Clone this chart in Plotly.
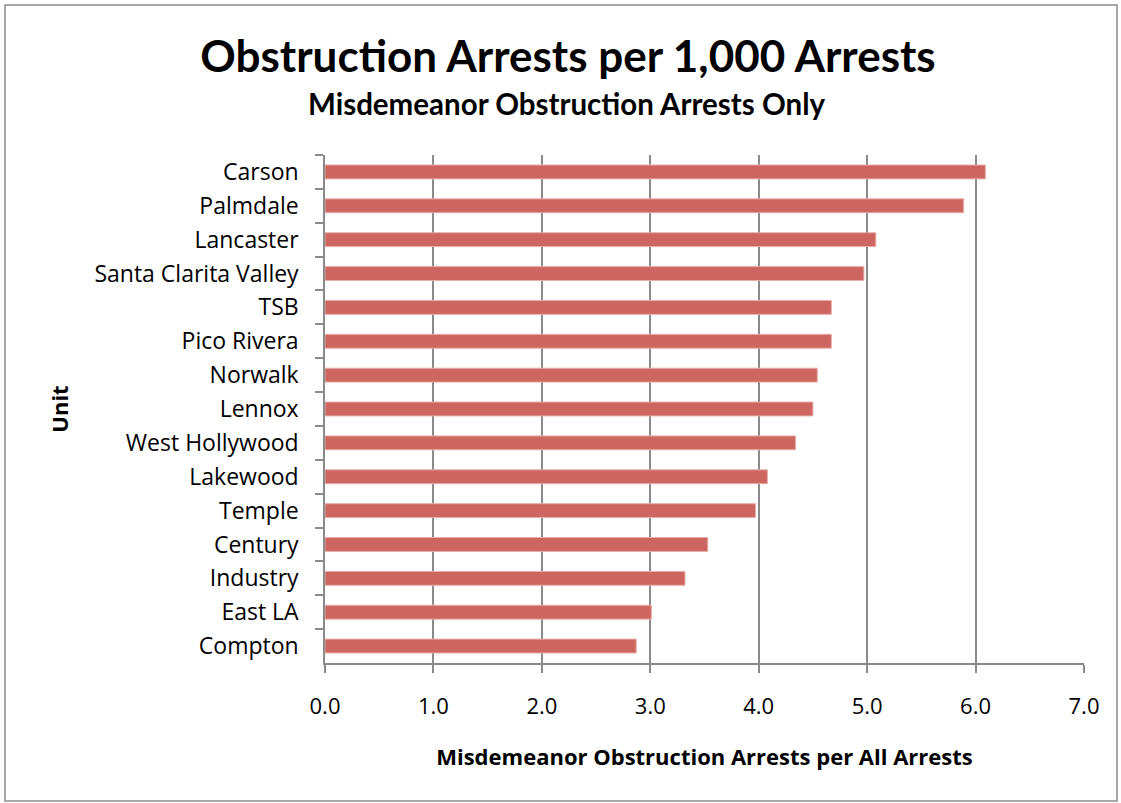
import plotly.graph_objects as go

units = ['Carson', 'Palmdale', 'Lancaster', 'Santa Clarita Valley', 'TSB', 'Pico Rivera',
         'Norwalk', 'Lennox', 'West Hollywood', 'Lakewood', 'Temple', 'Century',
         'Industry', 'East LA', 'Compton']
rates = [6.09, 5.89, 5.08, 4.97, 4.67, 4.67, 4.54, 4.50, 4.34, 4.08, 3.97, 3.53, 3.32, 3.01, 2.87]
x_ticks = [0, 1, 2, 3, 4, 5, 6, 7]
x_labels = ['0.0', '1.0', '2.0', '3.0', '4.0', '5.0', '6.0', '7.0']

W, H = 1121, 803
title_font = 'Lato'
body_font = 'Open Sans'
grey = '#8a8a8a'

fig = go.Figure()
fig.add_trace(go.Bar(
    x=rates,
    y=units,
    orientation='h',
    marker=dict(color='#cd6660', line=dict(color='#e8aeaa', width=1)),
    showlegend=False))

fig.update_layout(
    width=W,
    height=H,
    margin=dict(l=325, r=37, t=155, b=140),
    paper_bgcolor='white',
    plot_bgcolor='white',
    bargap=0.59,
    font=dict(family=body_font, size=23, color='black'),
    title=dict(
        text='<b>Obstruction Arrests per 1,000 Arrests</b>',
        font=dict(family=title_font, size=44, color='black'),
        x=568 / W, xanchor='center', xref='container',
        y=1 - 57 / H, yanchor='middle', yref='container'),
    annotations=[dict(
        text='<b>Misdemeanor Obstruction Arrests Only</b>',
        font=dict(family=title_font, size=29.5, color='black'),
        xref='paper', yref='paper',
        x=(567 - 325) / 759, y=(663 - 104) / 508,
        xanchor='center', yanchor='middle', showarrow=False)],
    shapes=[dict(
        type='rect', xref='paper', yref='paper',
        x0=(5 - 325) / 759, x1=(1117 - 325) / 759,
        y0=(663 - 801) / 508, y1=(663 - 5) / 508,
        line=dict(color='#8c8c8c', width=1.5), layer='below')])

fig.update_xaxes(
    range=[0, 7],
    tickvals=x_ticks,
    ticktext=x_labels,
    tickfont=dict(size=22),
    showgrid=True,
    gridcolor=grey,
    gridwidth=1.5,
    showline=True,
    linecolor=grey,
    linewidth=1.5,
    ticks='outside',
    ticklen=8,
    tickcolor=grey,
    tickwidth=1.5,
    ticklabelstandoff=15,
    zeroline=False,
    title=dict(text='<b>Misdemeanor Obstruction Arrests per All Arrests</b>',
               font=dict(family=body_font, size=22), standoff=30))

fig.update_yaxes(
    autorange='reversed',
    showgrid=False,
    showline=True,
    linecolor=grey,
    linewidth=1.5,
    ticks='outside',
    tickson='boundaries',
    ticklen=8,
    tickcolor=grey,
    tickwidth=1.5,
    ticklabelstandoff=20,
    title=dict(text='<b>Unit</b>', font=dict(family=body_font, size=22), standoff=20))

# drop the default 8px page margin so the figure sits at the window origin
fig.write_html('out.html', config={'displayModeBar': False},
               post_script="document.body.style.margin = '0';")
